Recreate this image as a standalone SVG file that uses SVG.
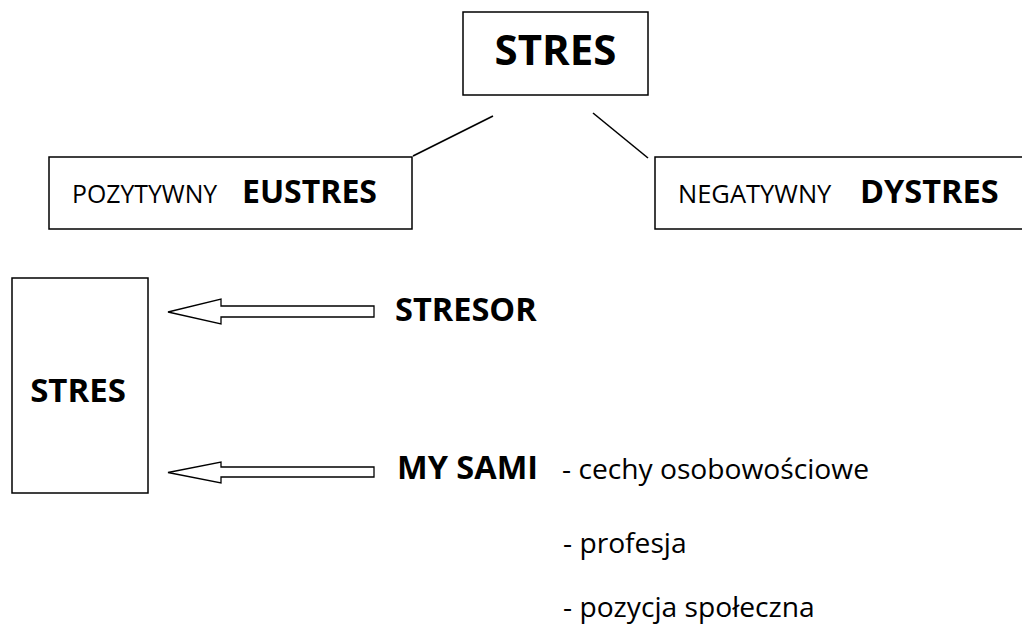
<svg xmlns="http://www.w3.org/2000/svg" width="1022" height="629" viewBox="0 0 1022 629">
<style>
.box{fill:#fff;stroke:#000;stroke-width:1.5}
.ln{stroke:#000;stroke-width:1.6;fill:none}
.arr{fill:#fff;stroke:#000;stroke-width:1.3;stroke-linejoin:miter}
.b{font-family:"Open Sans","Liberation Sans",sans-serif;font-weight:bold;fill:#000}
.r{font-family:"Open Sans","Liberation Sans",sans-serif;font-weight:normal;fill:#000}
</style>
<rect width="1022" height="629" fill="#fff"/>
<g id="connectors">
<line class="ln" x1="493" y1="116" x2="413" y2="156"/>
<line class="ln" x1="593" y1="113" x2="648" y2="158"/>
<polygon class="arr" points="168,312 221,299 221,306 374,306 374,317 221,317 221,324"/>
<polygon class="arr" points="168,472.5 221,462 221,467 374,467 374,477 221,477 221,483"/>
</g>
<g id="stres-top">
<rect class="box" x="463" y="12" width="185" height="83"/>
<text class="b" x="555.5" y="65" font-size="42" text-anchor="middle">STRES</text>
</g>
<g id="eustres">
<rect class="box" x="49" y="157" width="363" height="72"/>
<text class="r" x="72" y="203" font-size="24.8">POZYTYWNY</text>
<text class="b" x="242" y="203" font-size="32">EUSTRES</text>
</g>
<g id="dystres">
<rect class="box" x="655" y="157" width="380" height="72"/>
<text class="r" x="678" y="203" font-size="25.5">NEGATYWNY</text>
<text class="b" x="860" y="203" font-size="32.5">DYSTRES</text>
</g>
<g id="stres-bottom">
<rect class="box" x="12" y="278" width="136" height="215"/>
<text class="b" x="78" y="402" font-size="33" text-anchor="middle">STRES</text>
</g>
<g id="stresor">
<text class="b" x="395" y="321" font-size="32.5">STRESOR</text>
</g>
<g id="my-sami">
<text class="b" x="397" y="479" font-size="32.5">MY SAMI</text>
<text class="r" x="562" y="479" font-size="28.2">- cechy osobowościowe</text>
<text class="r" x="563" y="553" font-size="28.2">- profesja</text>
<text class="r" x="563" y="617" font-size="28.2">- pozycja społeczna</text>
</g>
</svg>
